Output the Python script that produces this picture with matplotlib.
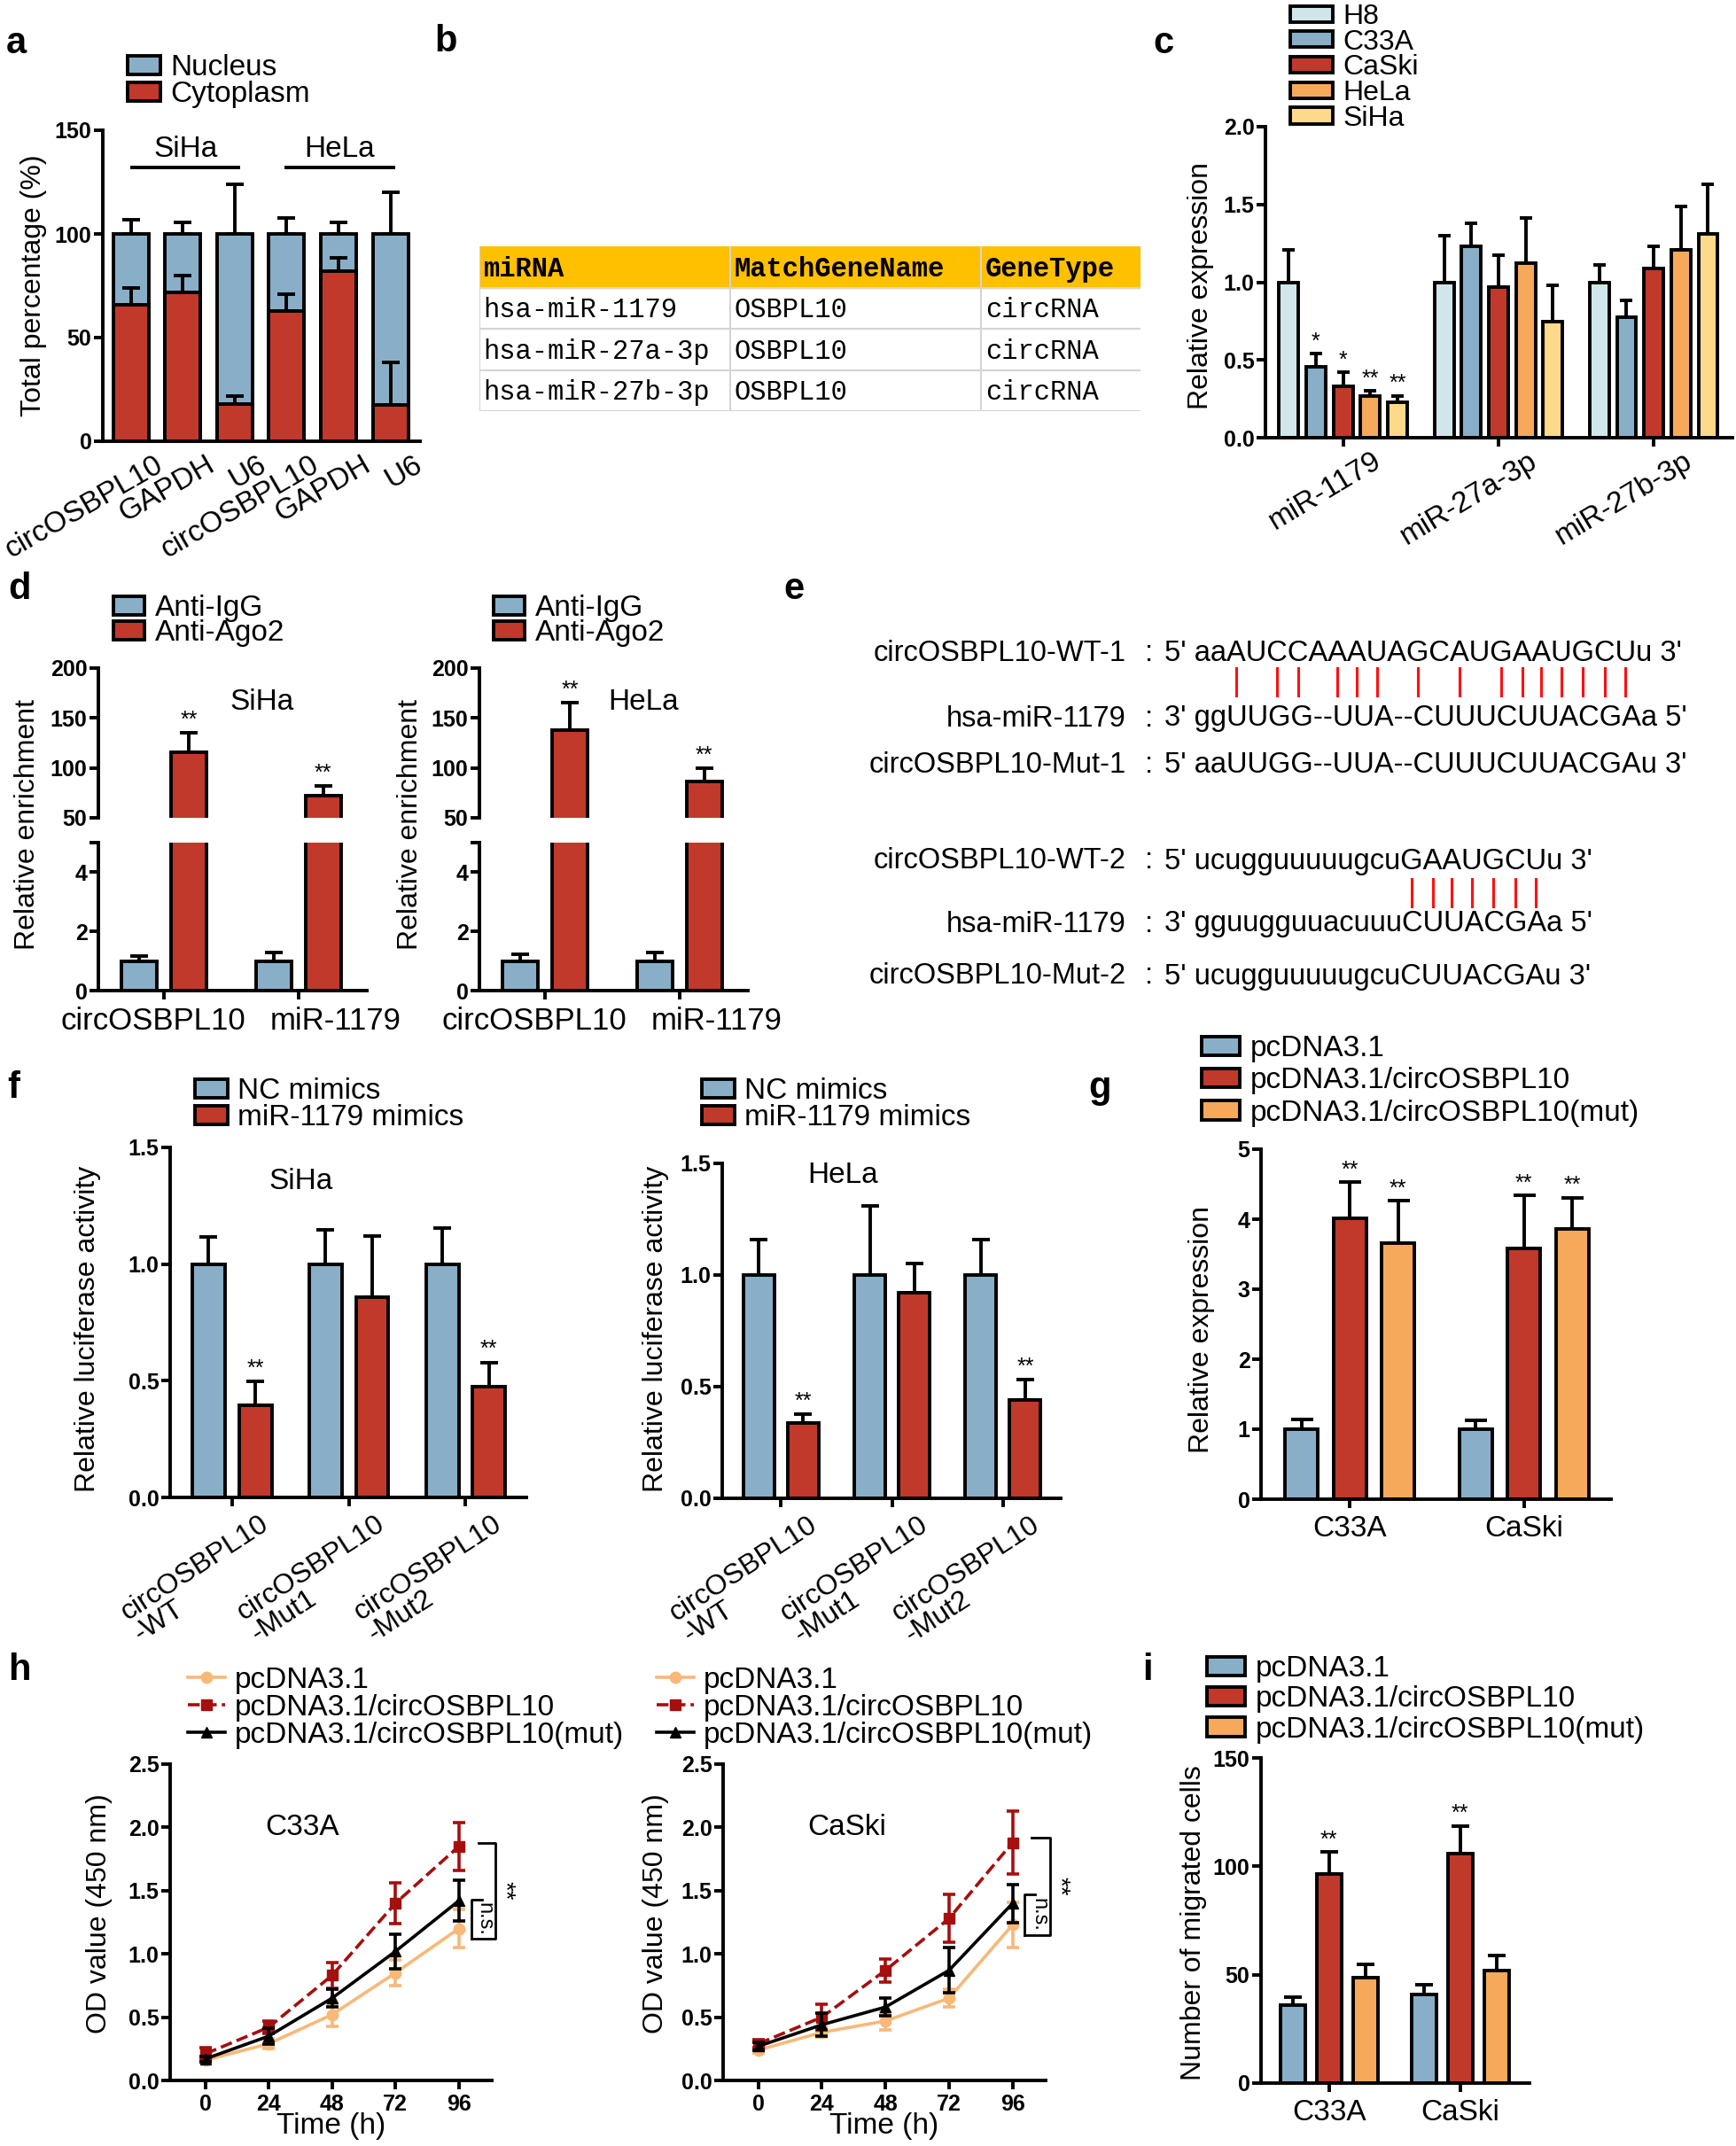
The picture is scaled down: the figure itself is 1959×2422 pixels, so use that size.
import matplotlib
matplotlib.use("Agg")
import matplotlib.pyplot as plt
import numpy as np
from matplotlib.patches import Patch, Rectangle
from matplotlib.lines import Line2D
from matplotlib.transforms import ScaledTranslation

plt.rcParams['font.family'] = ['Liberation Sans', 'DejaVu Sans']

# ---------------- data ----------------
# a: subcellular fractionation
a_cats = ['circOSBPL10', 'GAPDH', 'U6', 'circOSBPL10', 'GAPDH', 'U6']
a_nuc = [100, 100, 100, 100, 100, 100]
a_nuc_err = [7, 5.5, 24, 7.5, 5.5, 20]
a_cyto = [66, 72, 18, 63, 82, 17.5]
a_cyto_err = [8, 8, 4, 8, 6.5, 20.5]

# b: table
b_head = ['miRNA', 'MatchGeneName', 'GeneType']
b_mirna = ['hsa-miR-1179', 'hsa-miR-27a-3p', 'hsa-miR-27b-3p']
b_gene = ['OSBPL10', 'OSBPL10', 'OSBPL10']
b_type = ['circRNA', 'circRNA', 'circRNA']

# c: miRNA expression in cell lines
c_groups = ['miR-1179', 'miR-27a-3p', 'miR-27b-3p']
c_lines = ['H8', 'C33A', 'CaSki', 'HeLa', 'SiHa']
c_h8 = [1.0, 1.0, 1.0]
c_h8_err = [0.21, 0.30, 0.11]
c_c33a = [0.455, 1.23, 0.776]
c_c33a_err = [0.085, 0.15, 0.11]
c_caski = [0.33, 0.97, 1.09]
c_caski_err = [0.09, 0.205, 0.14]
c_hela = [0.265, 1.12, 1.21]
c_hela_err = [0.035, 0.295, 0.28]
c_siha = [0.226, 0.746, 1.31]
c_siha_err = [0.044, 0.234, 0.32]
c_stars = ['', '*', '*', '**', '**']

# d: RIP
d_cats = ['circOSBPL10', 'miR-1179']
d_siha_igg = [1.0, 1.0]
d_siha_igg_err = [0.17, 0.28]
d_siha_ago2 = [116, 72]
d_siha_ago2_err = [19, 10]
d_hela_igg = [1.0, 1.0]
d_hela_igg_err = [0.22, 0.28]
d_hela_ago2 = [138, 86.5]
d_hela_ago2_err = [27, 13.5]

# e: binding sites
e_names = ['circOSBPL10-WT-1', 'hsa-miR-1179', 'circOSBPL10-Mut-1',
           'circOSBPL10-WT-2', 'hsa-miR-1179', 'circOSBPL10-Mut-2']
e_seqs = ["5' aaAUCCAAAUAGCAUGAAUGCUu 3'", "3' ggUUGG--UUA--CUUUCUUACGAa 5'",
          "5' aaUUGG--UUA--CUUUCUUACGAu 3'", "5' ucugguuuuugcuGAAUGCUu 3'",
          "3' gguugguuacuuuCUUACGAa 5'", "5' ucugguuuuugcuCUUACGAu 3'"]
e_pairs_1 = [5, 7, 8, 10, 11, 12, 14, 16, 18, 19, 20, 21, 22, 23, 24]
e_pairs_2 = [16, 17, 18, 19, 20, 21, 22]

# f: luciferase
f_cats = ['circOSBPL10\n-WT', 'circOSBPL10\n-Mut1', 'circOSBPL10\n-Mut2']
f_siha_nc = [1.0, 1.0, 1.0]
f_siha_nc_err = [0.115, 0.147, 0.155]
f_siha_mim = [0.396, 0.859, 0.475]
f_siha_mim_err = [0.10, 0.26, 0.103]
f_hela_nc = [1.0, 1.0, 1.0]
f_hela_nc_err = [0.158, 0.31, 0.16]
f_hela_mim = [0.339, 0.92, 0.442]
f_hela_mim_err = [0.038, 0.13, 0.088]
f_stars = ['**', '', '**']

# g: overexpression
g_cats = ['C33A', 'CaSki']
g_vec = [1.0, 1.0]
g_vec_err = [0.14, 0.13]
g_circ = [4.01, 3.58]
g_circ_err = [0.52, 0.76]
g_mut = [3.66, 3.86]
g_mut_err = [0.6, 0.45]

# h: CCK-8
h_time = [0, 24, 48, 72, 96]
h_c33a_vec = [0.16, 0.29, 0.52, 0.85, 1.2]
h_c33a_vec_err = [0.02, 0.04, 0.09, 0.1, 0.15]
h_c33a_circ = [0.21, 0.42, 0.83, 1.4, 1.85]
h_c33a_circ_err = [0.05, 0.05, 0.1, 0.16, 0.19]
h_c33a_mut = [0.17, 0.35, 0.65, 1.02, 1.42]
h_c33a_mut_err = [0.02, 0.06, 0.07, 0.135, 0.16]
h_caski_vec = [0.24, 0.38, 0.47, 0.65, 1.23]
h_caski_vec_err = [0.02, 0.04, 0.07, 0.07, 0.18]
h_caski_circ = [0.29, 0.5, 0.87, 1.28, 1.88]
h_caski_circ_err = [0.03, 0.1, 0.09, 0.19, 0.25]
h_caski_mut = [0.27, 0.44, 0.58, 0.87, 1.4]
h_caski_mut_err = [0.03, 0.09, 0.07, 0.18, 0.15]

# i: migration
i_cats = ['C33A', 'CaSki']
i_vec = [35.8, 41]
i_vec_err = [4, 4.2]
i_circ = [96.5, 106]
i_circ_err = [10, 12.7]
i_mut = [48.7, 52]
i_mut_err = [6, 7]

vec_labels = ['pcDNA3.1', 'pcDNA3.1/circOSBPL10', 'pcDNA3.1/circOSBPL10(mut)']

# ---------------- style ----------------
BLUE = '#88afc7'
RED = '#c0392b'
ORANGE = '#f7a95b'
YELLOW = '#fdd98b'
CYAN = '#d0e6ea'
H_OR = '#f8b878'
H_RED = '#a50f0f'
LW = 2.8
TICK_FS = 18
TXT_FS = 24

W, H = 1959, 2422
fig = plt.figure(figsize=(W / 100, H / 100), dpi=100)


def axes_px(l, t, r, b):
    return fig.add_axes([l / W, 1 - b / H, (r - l) / W, (b - t) / H])


def ftext(x, y, s, **kw):
    kw.setdefault('ha', 'center')
    kw.setdefault('va', 'center')
    return fig.text(x / W, 1 - y / H, s, **kw)


def style(ax, ylim, yticks, ylabels):
    ax.set_ylim(*ylim)
    ax.spines['top'].set_visible(False)
    ax.spines['right'].set_visible(False)
    ax.spines['left'].set_linewidth(LW)
    ax.spines['bottom'].set_linewidth(LW)
    ax.set_yticks(yticks, ylabels, fontsize=TICK_FS, fontweight='bold')
    ax.tick_params(axis='both', width=LW, length=7, direction='out')
    ax.tick_params(axis='y', pad=2)
    ax.patch.set_alpha(0)


def shift(labels, dx, dy):
    for t in labels:
        t.set_transform(t.get_transform() + ScaledTranslation(dx / 100, -dy / 100, fig.dpi_scale_trans))


def bars(ax, x, h, w, color, err, cap=7, z=2):
    x = np.asarray(x, float)
    ax.bar(x, h, w, color=color, edgecolor='k', linewidth=LW, zorder=z)
    ax.errorbar(x, h, yerr=[np.zeros(len(h)), err], fmt='none', ecolor='k',
                elinewidth=LW, capsize=cap, capthick=LW, zorder=z - 0.5)


def stars(ax, x, h, err, marks, off, fs=18):
    for xi, hi, ei, m in zip(x, h, err, marks):
        if m:
            ax.text(xi, hi + ei + off, m, ha='center', va='bottom', fontsize=fs)


def bar_legend(x, y, colors, labels, hl=1.1, hh=0.6, ls=0.0, fs=TXT_FS):
    handles = [Patch(facecolor=c, edgecolor='k', linewidth=LW) for c in colors]
    fig.legend(handles, labels, loc='upper left', bbox_to_anchor=(x / W, 1 - y / H),
               frameon=False, fontsize=fs, handlelength=hl, handleheight=hh,
               handletextpad=0.35, labelspacing=ls, borderpad=0, borderaxespad=0)


def letter(x, y, s):
    ftext(x, y, s, fontsize=30, fontweight='bold')


# ---------------- a ----------------
ax = axes_px(116, 147, 474, 498)
xa = np.arange(len(a_cats))
bars(ax, xa, a_nuc, 0.68, BLUE, a_nuc_err, z=2)
bars(ax, xa, a_cyto, 0.68, RED, a_cyto_err, z=4)
style(ax, (0, 150), [0, 50, 100, 150], ['0', '50', '100', '150'])
ax.set_xlim(-0.54, 5.57)
ax.set_xticks(xa, a_cats, rotation=30, ha='right', va='top', rotation_mode='anchor', fontsize=TXT_FS)
ax.tick_params(axis='x', length=0)
shift(ax.get_xticklabels(), 26, 6)
ax.plot([0.02, 2.07], [132, 132], color='k', lw=LW, clip_on=False)
ax.plot([3.0, 5.05], [132, 132], color='k', lw=LW, clip_on=False)
ax.text(1.05, 141, 'SiHa', ha='center', va='center', fontsize=TXT_FS)
ax.text(4.02, 141, 'HeLa', ha='center', va='center', fontsize=TXT_FS)
ftext(38, 322, 'Total percentage (%)', rotation=90, fontsize=23)
bar_legend(144, 61, [BLUE, RED], ['Nucleus', 'Cytoplasm'], ls=-0.02)
letter(18, 49, 'a')

# ---------------- b ----------------
ax = axes_px(541, 278, 1287, 464)
ax.set_xlim(0, 1)
ax.set_ylim(4, 0)
ax.axis('off')
col_edges = [0, 0.379, 0.759]
ax.add_patch(Rectangle((0, 0), 1, 1, color='#ffc000', zorder=0))
for r in range(1, 5):
    ax.plot([0, 1], [r, r], color='#d4d4d4', lw=1.5)
for c in col_edges:
    ax.plot([c, c], [0, 4], color='#d4d4d4', lw=1.5)
rows = [b_head] + [list(t) for t in zip(b_mirna, b_gene, b_type)]
for r, row in enumerate(rows):
    for c, txt in enumerate(row):
        ax.text(col_edges[c] + 0.006, r + 0.55, txt, ha='left', va='center', fontsize=22,
                family=['Liberation Mono', 'DejaVu Sans Mono'],
                fontweight='bold' if r == 0 else 'normal')
letter(503, 47, 'b')

# ---------------- c ----------------
ax = axes_px(1428, 143, 1955, 494)
xc = np.arange(len(c_groups))
c_series = [(c_h8, c_h8_err, CYAN), (c_c33a, c_c33a_err, BLUE), (c_caski, c_caski_err, RED),
            (c_hela, c_hela_err, ORANGE), (c_siha, c_siha_err, YELLOW)]
step = 0.175
for k, (v, e, col) in enumerate(c_series):
    xk = xc + (k - 2) * step
    bars(ax, xk, v, 0.125, col, e, cap=5)
    ax.text(xk[0], v[0] + e[0] + 0.01, c_stars[k], ha='center', va='bottom', fontsize=18)
style(ax, (0, 2.0), [0, 0.5, 1.0, 1.5, 2.0], ['0.0', '0.5', '1.0', '1.5', '2.0'])
ax.set_xlim(-0.5, 2.507)
ax.set_xticks(xc, c_groups, rotation=31, ha='right', va='top', rotation_mode='anchor', fontsize=TXT_FS)
shift(ax.get_xticklabels(), 33, -4)
ftext(1355, 322, 'Relative expression', rotation=90, fontsize=23)
bar_legend(1456, 4, [CYAN, BLUE, RED, ORANGE, YELLOW], c_lines, hl=1.5, hh=0.5, ls=-0.04, fs=23)
letter(1313, 49, 'c')

# ---------------- d ----------------
def rip_panel(left, igg, igg_err, ago, ago_err, title, ylab_x):
    right = left + 303
    up = axes_px(left, 754, right, 923)
    lo = axes_px(left, 951, right, 1118)
    xd = np.arange(len(d_cats))
    for a_ in (up, lo):
        bars(a_, xd - 0.185, igg, 0.265, BLUE, igg_err)
        bars(a_, xd + 0.185, ago, 0.265, RED, ago_err)
        a_.set_xlim(-0.49, 1.51)
    style(up, (50, 200), [50, 100, 150, 200], ['50', '100', '150', '200'])
    up.spines['bottom'].set_visible(False)
    up.set_xticks([])
    stars(up, xd + 0.185, ago, ago_err, ['**', '**'], 2)
    up.text(0.73, 166, title, ha='center', va='center', fontsize=TXT_FS)
    style(lo, (0, 5), [0, 2, 4, 5], ['0', '2', '4', ''])
    lo.set_xticks(xd, d_cats, fontsize=25)
    lo.tick_params(axis='x', pad=6)
    labs = lo.get_xticklabels()
    shift(labs[:1], -12, 0)
    shift(labs[1:], 42, 0)
    ftext(ylab_x, 930, 'Relative enrichment', rotation=90, fontsize=23)


rip_panel(111, d_siha_igg, d_siha_igg_err, d_siha_ago2, d_siha_ago2_err, 'SiHa', 31)
rip_panel(541, d_hela_igg, d_hela_igg_err, d_hela_ago2, d_hela_ago2_err, 'HeLa', 463)
bar_legend(128, 671, [BLUE, RED], ['Anti-IgG', 'Anti-Ago2'], hl=1.05, ls=-0.08)
bar_legend(557, 671, [BLUE, RED], ['Anti-IgG', 'Anti-Ago2'], hl=1.05, ls=-0.08)
letter(22, 665, 'd')

# ---------------- e ----------------
E_FS = 23.5
e_y = [737, 811, 864, 972, 1043, 1102]
SEQ_X = 1314
for name, seq, y in zip(e_names, e_seqs, e_y):
    ftext(1271, y, name, ha='right', fontsize=E_FS)
    ftext(1292, y, ':', ha='left', fontsize=E_FS)
    ftext(SEQ_X, y, seq, ha='left', fontsize=E_FS)

renderer = fig.canvas.get_renderer()


def text_w(s):
    t = fig.text(0, 0, s, fontsize=E_FS)
    w = t.get_window_extent(renderer).width
    t.remove()
    return w


def pair_lines(seq, idx, y0, y1):
    for i in idx:
        xc_ = SEQ_X + (text_w(seq[:i]) + text_w(seq[:i + 1])) / 2
        fig.add_artist(Line2D([xc_ / W, xc_ / W], [1 - y0 / H, 1 - y1 / H], color='#ff1010', lw=2.2))


pair_lines(e_seqs[0], e_pairs_1, 754, 785)
pair_lines(e_seqs[3], e_pairs_2, 992, 1023)
letter(896, 665, 'e')

# ---------------- f ----------------
def luc_panel(l, t, r, b, nc, nc_err, mim, mim_err, title, ty, tx, ylab_x, ylab_y):
    ax = axes_px(l, t, r, b)
    xf = np.arange(len(f_cats))
    bars(ax, xf - 0.2, nc, 0.28, BLUE, nc_err)
    bars(ax, xf + 0.2, mim, 0.28, RED, mim_err)
    stars(ax, xf + 0.2, mim, mim_err, f_stars, 0.01)
    style(ax, (0, 1.5), [0, 0.5, 1.0, 1.5], ['0.0', '0.5', '1.0', '1.5'])
    ax.set_xlim(-0.53, 2.52)
    ax.set_xticks(xf, f_cats, rotation=33, ha='right', va='top', rotation_mode='anchor',
                  fontsize=23, multialignment='left', linespacing=0.95)
    shift(ax.get_xticklabels(), 30, 0)
    ax.text(tx, ty, title, ha='center', va='center', fontsize=TXT_FS)
    ftext(ylab_x, ylab_y, 'Relative luciferase activity', rotation=90, fontsize=23)


luc_panel(192, 1295, 594, 1690, f_siha_nc, f_siha_nc_err, f_siha_mim, f_siha_mim_err,
          'SiHa', 1.355, 0.59, 99, 1500)
luc_panel(815, 1313, 1197, 1691, f_hela_nc, f_hela_nc_err, f_hela_mim, f_hela_mim_err,
          'HeLa', 1.448, 0.56, 740, 1500)
bar_legend(220, 1216, [BLUE, RED], ['NC mimics', 'miR-1179 mimics'], ls=-0.02)
bar_legend(792, 1216, [BLUE, RED], ['NC mimics', 'miR-1179 mimics'], ls=-0.02)
letter(15, 1228, 'f')

# ---------------- g ----------------
ax = axes_px(1423, 1297, 1818, 1692)
xg = np.arange(len(g_cats))
bars(ax, xg - 0.277, g_vec, 0.19, BLUE, g_vec_err, cap=9)
bars(ax, xg, g_circ, 0.19, RED, g_circ_err, cap=9)
bars(ax, xg + 0.277, g_mut, 0.19, ORANGE, g_mut_err, cap=9)
stars(ax, xg, g_circ, g_circ_err, ['**', '**'], 0.02)
stars(ax, xg + 0.277, g_mut, g_mut_err, ['**', '**'], 0.02)
style(ax, (0, 5), [0, 1, 2, 3, 4, 5], ['0', '1', '2', '3', '4', '5'])
ax.set_xlim(-0.51, 1.5)
ax.set_xticks(xg, g_cats, fontsize=TXT_FS)
ax.tick_params(axis='x', pad=6)
ftext(1356, 1500, 'Relative expression', rotation=90, fontsize=23)
bar_legend(1356, 1168, [BLUE, RED, ORANGE], vec_labels, hl=1.3, ls=0.16)
letter(1241, 1228, 'g')

# ---------------- h ----------------
def cck_panel(l, r, vec, vec_e, circ, circ_e, mut, mut_e, title, tx, br, ylab_x):
    ax = axes_px(l, 1991, r, 2348)
    ax.errorbar(h_time, vec, yerr=vec_e, color=H_OR, lw=2.6, marker='o', ms=9,
                capsize=5, capthick=2.6, elinewidth=2.6, zorder=2)
    ax.errorbar(h_time, circ, yerr=circ_e, color=H_RED, lw=2.6, ls='--', marker='s', ms=9,
                capsize=5, capthick=2.6, elinewidth=2.6, zorder=3)
    ax.errorbar(h_time, mut, yerr=mut_e, color='k', lw=2.6, marker='^', ms=9,
                capsize=5, capthick=2.6, elinewidth=2.6, zorder=4)
    style(ax, (0, 2.5), [0, 0.5, 1.0, 1.5, 2.0, 2.5], ['0.0', '0.5', '1.0', '1.5', '2.0', '2.5'])
    ax.set_xlim(-13.3, 108.5)
    ax.set_xticks(h_time, [str(t) for t in h_time], fontsize=TICK_FS, fontweight='bold')
    ax.set_xlabel('Time (h)', fontsize=TXT_FS, labelpad=-2)
    ax.text(tx, 2.0, title, ha='center', va='center', fontsize=TXT_FS)
    x_in, x_out, x_tk, y_out, y_in, y_bot = br
    ax.plot([x_in + 4, x_in, x_in], [y_in, y_in, y_bot], color='k', lw=2, clip_on=False)
    ax.plot([x_tk, x_out, x_out, x_in], [y_out, y_out, y_bot, y_bot], color='k', lw=2, clip_on=False)
    ax.text((x_in + x_out) / 2 + 0.5, (y_in + y_bot) / 2, 'n.s.', rotation=-90, ha='center',
            va='center', fontsize=17, clip_on=False)
    ax.text(x_out + 3.5, (y_out + y_bot) / 2, '**', rotation=-90, ha='center', va='center',
            fontsize=20, clip_on=False)
    ftext(ylab_x, 2160, 'OD value (450 nm)', rotation=90, fontsize=23)


cck_panel(192, 555, h_c33a_vec, h_c33a_vec_err, h_c33a_circ, h_c33a_circ_err,
          h_c33a_mut, h_c33a_mut_err, 'C33A', 36.8, (100.7, 109.7, 103.4, 1.88, 1.43, 1.12), 112)
cck_panel(816, 1180, h_caski_vec, h_caski_vec_err, h_caski_circ, h_caski_circ_err,
          h_caski_mut, h_caski_mut_err, 'CaSki', 33.6, (100.5, 110.2, 103, 1.92, 1.47, 1.15), 740)
h_handles = [Line2D([], [], color=H_OR, lw=2.6, marker='o', ms=9),
             Line2D([], [], color=H_RED, lw=2.6, ls='--', marker='s', ms=9),
             Line2D([], [], color='k', lw=2.6, marker='^', ms=9)]
for lx in (212, 741):
    fig.legend(h_handles, vec_labels, loc='upper left', bbox_to_anchor=(lx / W, 1 - 1881 / H),
               frameon=False, fontsize=TXT_FS, handlelength=1.25, handletextpad=0.35,
               labelspacing=0.0, borderpad=0, borderaxespad=0)
letter(22, 1885, 'h')

# ---------------- i ----------------
ax = axes_px(1423, 1984, 1726, 2351)
xi = np.arange(len(i_cats))
bars(ax, xi - 0.277, i_vec, 0.19, BLUE, i_vec_err)
bars(ax, xi, i_circ, 0.19, RED, i_circ_err)
bars(ax, xi + 0.277, i_mut, 0.19, ORANGE, i_mut_err)
stars(ax, xi, i_circ, i_circ_err, ['**', '**'], 0.8)
style(ax, (0, 150), [0, 50, 100, 150], ['0', '50', '100', '150'])
ax.set_xlim(-0.52, 1.53)
ax.set_xticks(xi, i_cats, fontsize=TXT_FS)
ax.tick_params(axis='x', pad=6)
ftext(1347, 2170, 'Number of migrated cells', rotation=90, fontsize=23)
bar_legend(1362, 1868, [BLUE, RED, ORANGE], vec_labels, hl=1.3, ls=0.1)
letter(1295, 1885, 'i')

fig.savefig('out.png', dpi=100)
